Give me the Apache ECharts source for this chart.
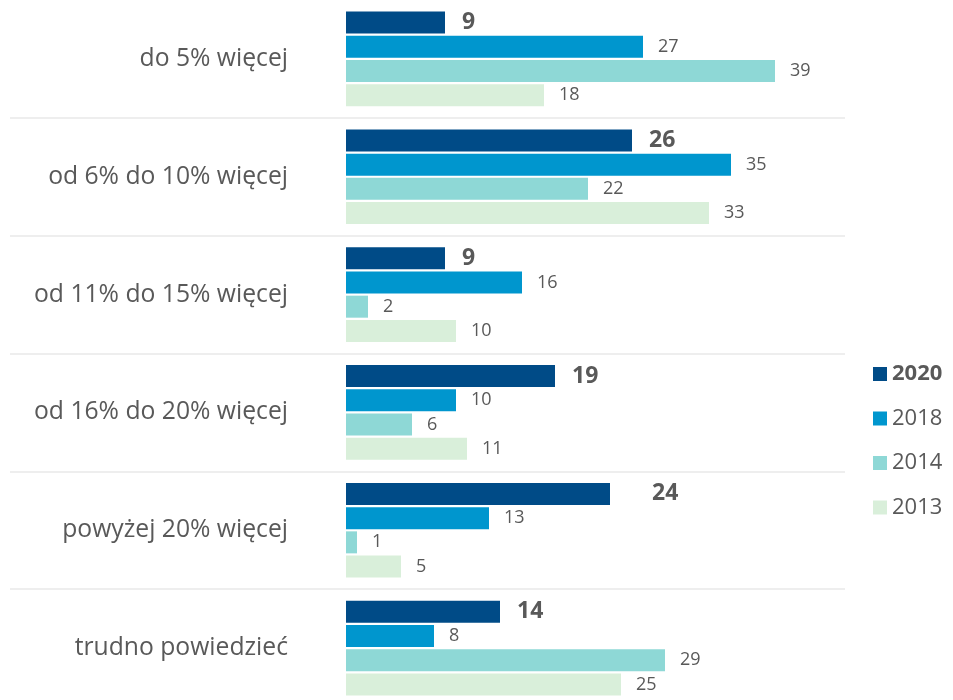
<!DOCTYPE html>
<html>
<head>
<meta charset="utf-8">
<script src="https://cdn.jsdelivr.net/npm/echarts@6/dist/echarts.min.js"></script>
<style>html,body{margin:0;padding:0;background:#fff}#c{width:953px;height:700px}</style>
</head>
<body>
<div id="c"></div>
<script>
const categories = ['do 5% więcej', 'od 6% do 10% więcej', 'od 11% do 15% więcej', 'od 16% do 20% więcej', 'powyżej 20% więcej', 'trudno powiedzieć'];
const seriesNames = ['2020', '2018', '2014', '2013'];
const values2020 = [9, 26, 9, 19, 24, 14];
const values2018 = [27, 35, 16, 10, 13, 8];
const values2014 = [39, 22, 2, 6, 1, 29];
const values2013 = [18, 33, 10, 11, 5, 25];

const allValues = [values2020, values2018, values2014, values2013];
const colors = ['#004B87', '#0096CE', '#8ED8D6', '#D9EFDA'];
const FONT = 'Open Sans';
const TXT = '#595959';

const chart = echarts.init(document.getElementById('c'));

const series = seriesNames.map((name, si) => {
  const bold = si === 0;
  return {
    name: name,
    type: 'bar',
    xAxisIndex: 1,
    yAxisIndex: 1,
    barWidth: 22,
    barGap: '10%',
    itemStyle: { color: colors[si] },
    data: allValues[si].map((v, ci) => {
      if (bold && ci === 4) return { value: v, label: { distance: 42 } };
      return v;
    }),
    label: {
      show: true,
      position: 'right',
      distance: bold ? 17 : 15,
      color: TXT,
      fontFamily: FONT,
      fontSize: bold ? 23 : 18,
      fontWeight: bold ? 'bold' : 'normal',
      padding: bold ? 0 : [4, 0, 0, 0]
    }
  };
});

chart.setOption({
  animation: false,
  textStyle: { fontFamily: FONT },
  grid: [
    { left: 10, width: 835, top: 0, height: 707, outerBoundsMode: 'none' },
    { left: 346, width: 440, top: 0, height: 707, outerBoundsMode: 'none' }
  ],
  xAxis: [
    { gridIndex: 0, type: 'value', show: false },
    { gridIndex: 1, type: 'value', min: 0, max: 40, show: false }
  ],
  yAxis: [
    {
      gridIndex: 0, type: 'category', inverse: true, data: categories,
      axisLine: { show: false }, axisTick: { show: false }, axisLabel: { show: false },
      splitLine: { show: true, interval: (i) => i > 0, lineStyle: { color: '#e8e8e8', width: 1.5 } }
    },
    {
      gridIndex: 1, type: 'category', inverse: true, data: categories,
      axisLine: { show: false }, axisTick: { show: false },
      splitLine: { show: false },
      axisLabel: { color: TXT, fontFamily: FONT, fontSize: 24.7, margin: 58, padding: [7, 0, 0, 0] }
    }
  ],
  legend: {
    orient: 'vertical',
    left: 868,
    top: 358,
    icon: 'rect',
    itemWidth: 14,
    itemHeight: 14,
    itemGap: 22.5,
    textStyle: { color: TXT, fontFamily: FONT, fontSize: 22 },
    data: seriesNames.map((n, i) => i === 0 ? { name: n, textStyle: { fontWeight: 'bold' } } : { name: n })
  },
  series: series
});
</script>
</body>
</html>
